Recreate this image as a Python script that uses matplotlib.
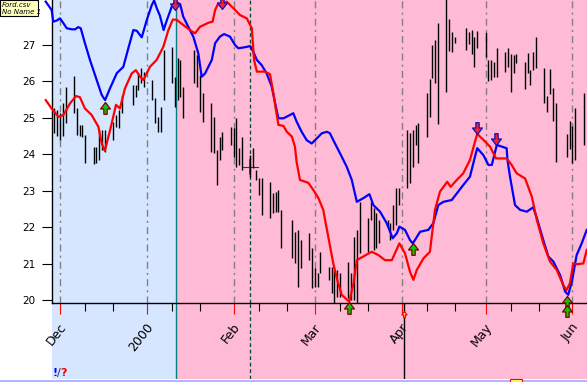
import numpy as np
import pandas as pd
import matplotlib
matplotlib.use("Agg")
import matplotlib.pyplot as plt
import matplotlib.transforms as mtransforms
from matplotlib.path import Path
from matplotlib.patches import Rectangle

# Ford.csv daily bars, 29 Nov 1999 - 5 Jun 2000 (exchange holidays skipped)
holidays = ["1999-12-24", "2000-01-17", "2000-02-21", "2000-04-21", "2000-05-29"]
dates = pd.bdate_range("1999-11-29", "2000-06-05")
dates = dates[~dates.isin(pd.to_datetime(holidays))]

highs = [25.27, 25.22,
         25.14, 25.41, 25.85, 26.15, 25.27, 24.81, 24.81, 24.53, 24.20, 24.20,
         24.67, 24.67, 24.67, 24.89, 25.08, 25.22, 25.63, 25.90, 25.90, 26.23,
         26.37, 26.26,
         26.04, 25.55, 25.03, 25.30, 26.86, 26.95, 26.12, 26.64, 26.59, 25.85,
         26.86, 26.73, 26.18, 25.68, 25.41, 25.03, 24.12, 24.48, 24.62, 24.75,
         24.72, 25.00, 24.17, 24.48, 23.98, 24.17, 23.57, 23.35, 23.35, 23.24,
         22.94, 22.97, 23.02, 22.48, 22.20, 21.87, 21.93, 21.65, 21.84, 21.43,
         20.89, 20.75, 21.32, 20.91, 20.91, 20.83, 20.83, 20.75, 21.05, 20.75,
         21.73, 21.93, 22.70, 22.26, 22.70, 22.53, 22.40, 22.20, 22.20, 22.12,
         22.61, 23.08, 23.08,
         24.67, 24.59, 24.67, 24.81, 24.86, 25.68, 26.07, 27.00, 27.14, 27.60,
         28.40, 27.71, 27.36, 27.22, 27.47, 27.36, 27.41, 27.22, 27.38,
         27.36, 26.59, 26.59, 26.53, 26.92, 26.81, 26.92, 26.75, 26.73, 26.75,
         26.53, 26.78, 26.31, 26.81, 27.22, 26.37, 25.60, 26.34, 25.82, 25.41,
         24.56, 24.92,
         24.78, 25.27, 25.68]
lows = [24.59, 24.50,
        24.40, 24.50, 24.86, 25.14, 24.53, 24.50, 24.48, 23.76, 23.74, 23.76,
        23.85, 24.12, 24.06, 24.40, 24.75, 24.72, 25.14, 25.36, 25.57, 25.77,
        25.96, 25.85,
        25.49, 24.86, 24.62, 24.62, 25.49, 25.96, 25.30, 25.49, 25.57, 25.00,
        25.96, 25.85, 25.16, 24.89, 24.07, 24.04, 23.16, 23.85, 24.12, 24.26,
        23.93, 23.65, 23.71, 23.57, 23.38, 23.63, 23.30, 22.89, 22.34, 22.26,
        22.40, 22.42, 22.42, 21.43, 21.16, 21.02, 20.36, 20.89, 21.10, 20.34,
        20.36, 20.36, 20.75, 20.56, 20.20, 19.93, 20.09, 20.09, 20.06, 20.01,
        20.01, 19.93, 21.30, 21.32, 22.20, 21.38, 21.43, 21.57, 22.01, 21.65,
        21.93, 22.07, 22.61,
        23.08, 23.22, 23.65, 24.26, 23.76, 24.48, 25.03, 26.10, 25.96, 24.83,
        25.71, 26.84, 26.81, 27.05, 26.86, 27.03, 26.75, 26.40, 26.92,
        26.67, 26.01, 26.04, 26.12, 26.12, 26.26, 26.40, 25.71, 26.23, 26.51,
        25.79, 26.23, 25.90, 26.31, 26.37, 25.41, 25.16, 25.66, 24.92, 23.79,
        23.93, 24.15,
        23.76, 23.85, 24.26]

# indicator lines: day offset from 1 Dec 1999 and value
blue_days = [-5.1, -3.0, -2.4, -1.2, 0.0, 1.2, 2.4, 4.2, 5.4, 6.5,
             7.4, 8.9, 10.7, 13.1, 14.9, 16.1, 17.9, 20.3, 22.6, 24.4,
             26.2, 27.4, 29.2, 31.0, 32.8, 33.6, 34.6, 35.7, 37.0, 38.2,
             39.9, 41.1, 42.9, 44.0, 45.8, 47.6, 49.4, 50.6, 51.8, 54.2,
             55.4, 57.1, 58.6, 60.7, 62.5, 63.7, 66.1, 67.9, 69.0, 70.3,
             72.0, 73.8, 75.6, 77.1, 78.0, 79.8, 82.1, 83.3, 84.5, 86.3,
             88.1, 89.9, 91.7, 93.5, 95.3, 96.4, 97.6, 100.0, 102.4, 104.2,
             106.0, 108.3, 110.5, 111.9, 114.3, 116.7, 118.8, 120.3, 121.2, 123.2,
             125.0, 126.0, 128.6, 131.5, 133.3, 135.1, 136.9, 139.9, 141.7, 144.0,
             146.4, 148.2, 149.0, 151.2, 153.0, 154.2, 156.0, 159.5, 159.8, 160.7,
             162.5, 164.3, 166.7, 169.0, 170.3, 172.6, 174.4, 176.2, 178.6, 180.4,
             181.5, 182.8, 184.5, 186.3, 188.1]
blue_vals = [28.19, 27.96, 27.64, 27.67, 27.73, 27.60, 27.46, 27.43, 27.43, 27.49,
             27.46, 27.05, 26.59, 26.04, 25.63, 25.49, 25.82, 26.23, 26.40, 26.91,
             27.41, 27.39, 27.21, 27.69, 28.10, 28.22, 28.00, 27.80, 27.41, 27.69,
             28.05, 28.19, 28.12, 27.78, 27.50, 27.23, 26.77, 26.13, 26.22, 26.59,
             27.05, 27.23, 27.30, 27.23, 27.00, 26.91, 26.94, 26.97, 26.82, 26.59,
             26.45, 26.22, 25.86, 25.31, 24.99, 24.99, 25.08, 25.13, 24.90, 24.62,
             24.39, 24.30, 24.44, 24.58, 24.62, 24.58, 24.39, 24.03, 23.66, 23.30,
             22.70, 22.80, 22.91, 22.61, 22.43, 22.11, 21.70, 21.84, 22.02, 21.93,
             21.65, 21.56, 21.88, 21.93, 22.11, 22.61, 22.70, 22.75, 22.93, 23.16,
             23.39, 23.94, 24.17, 23.98, 23.71, 23.71, 24.26, 24.17, 23.85, 23.39,
             22.61, 22.48, 22.43, 22.55, 22.25, 21.65, 21.20, 21.06, 20.69, 20.24,
             20.15, 20.51, 21.24, 21.56, 21.93]
red_days = [-5.1, -3.0, -0.6, 1.2, 3.6, 5.7, 7.1, 8.9, 11.3, 13.7,
            14.9, 16.0, 17.9, 20.0, 21.4, 23.2, 25.6, 27.1, 28.6, 29.8,
            32.1, 34.5, 36.9, 38.7, 40.3, 41.7, 44.0, 46.4, 48.2, 50.0,
            53.0, 54.5, 55.4, 56.5, 57.8, 59.5, 61.9, 64.3, 66.7, 68.5,
            69.3, 70.3, 73.2, 75.0, 76.2, 77.1, 78.0, 79.8, 81.0, 82.8,
            83.9, 84.5, 85.7, 88.7, 90.5, 92.3, 94.0, 95.8, 97.6, 99.0,
            100.6, 103.3, 104.8, 106.0, 107.8, 111.3, 113.7, 116.1, 118.5, 121.2,
            123.2, 125.0, 126.2, 127.4, 129.8, 132.1, 133.9, 135.7, 138.3, 139.5,
            141.7, 144.0, 146.4, 148.2, 149.0, 151.2, 153.6, 155.7, 159.5, 161.3,
            163.1, 166.1, 168.5, 170.3, 172.6, 175.0, 177.4, 179.7, 180.9, 182.1,
            183.3, 184.5, 186.9, 188.1]
red_vals = [25.49, 25.26, 25.03, 25.08, 25.40, 25.60, 25.57, 25.26, 25.08, 24.76,
            24.30, 24.10, 24.67, 25.36, 25.26, 25.81, 26.22, 26.31, 26.13, 26.04,
            26.40, 26.59, 26.95, 27.41, 27.70, 27.69, 27.55, 27.41, 27.32, 27.50,
            27.61, 27.64, 27.96, 28.14, 28.04, 28.19, 28.01, 27.82, 27.73, 27.46,
            26.59, 26.27, 26.27, 26.20, 25.68, 25.22, 24.81, 24.78, 24.62, 24.49,
            24.21, 23.79, 23.30, 23.22, 23.02, 22.80, 22.48, 21.74, 21.01, 20.56,
            20.15, 19.96, 20.46, 21.10, 21.18, 21.33, 21.24, 21.10, 21.10, 21.56,
            21.29, 20.78, 20.56, 20.83, 21.15, 21.33, 22.48, 22.98, 23.25, 23.11,
            23.30, 23.48, 23.85, 24.35, 24.56, 24.40, 24.21, 23.89, 23.89, 23.71,
            23.48, 23.34, 22.84, 22.20, 21.56, 21.06, 20.83, 20.42, 20.28, 20.47,
            21.01, 20.99, 21.01, 21.38]

# signal arrows (tip position)
buy_days = [16.2, 103.3, 126.2, 181.2, 181.2]
buy_vals = [25.44, 19.95, 21.57, 20.12, 19.86]
sell_days = [41.1, 57.7, 149.0, 155.7]
sell_vals = [27.96, 27.99, 24.56, 24.26]

month_labels = ["Dec", "2000", "Feb", "Mar", "Apr", "May", "Jun"]
month_dates = ["1999-12-01", "2000-01-01", "2000-02-01", "2000-03-01",
               "2000-04-01", "2000-05-01", "2000-06-01"]
minor_dates = ["1999-12-10", "1999-12-20", "2000-01-10", "2000-01-20",
               "2000-02-10", "2000-02-20", "2000-03-10", "2000-03-20",
               "2000-04-10", "2000-04-20", "2000-05-10", "2000-05-20"]

base = pd.Timestamp("1999-12-01")
day = np.asarray((dates - base).days, dtype=float)
month_days = [(pd.Timestamp(s) - base).days for s in month_dates]
minor_days = [(pd.Timestamp(s) - base).days for s in minor_dates]

BLUE_BG = "#d6e6ff"
PINK_BG = "#ffbad6"
x0, x1 = -2.86, 188.2
split = 41.4
cursor = 68

up_arrow = Path([(0, 0), (0.42, -0.55), (0.14, -0.55), (0.14, -1.0),
                 (-0.14, -1.0), (-0.14, -0.55), (-0.42, -0.55), (0, 0)])
down_arrow = Path([(0, 0), (0.42, 0.55), (0.14, 0.55), (0.14, 1.0),
                   (-0.14, 1.0), (-0.14, 0.55), (-0.42, 0.55), (0, 0)])

fig = plt.figure(figsize=(5.87, 3.82), dpi=100)
W, H = 587.0, 382.0

# strip below the axis line (label area)
low = fig.add_axes([52 / W, 3 / H, 535 / W, 76 / H])
low.set_xlim(x0, x1)
low.set_ylim(0, 1)
low.axvspan(x0, split, color=BLUE_BG, lw=0)
low.axvspan(split, x1, color=PINK_BG, lw=0)
low.axvline(split, color="#008080", lw=1)
low.axvline(cursor, color="#004a2a", lw=0.9, ls=(0, (3, 2.2)))
low.axvline(123.0, color="black", lw=1)
low.axis("off")
low.set_zorder(0)

ax = fig.add_axes([52 / W, 79 / H, 535 / W, 303 / H])
ax.set_zorder(1)
ax.patch.set_visible(False)
ax.set_xlim(x0, x1)
ax.set_ylim(19.926, 28.234)
ax.axvspan(x0, split, color=BLUE_BG, lw=0, zorder=0)
ax.axvspan(split, x1, color=PINK_BG, lw=0, zorder=0)
for m in month_days:
    ax.axvline(m, color="#808080", lw=1, ls=(0, (5, 3, 1.5, 3)), zorder=1)
ax.axvline(split, color="#008080", lw=1, zorder=1)
ax.axvline(cursor, color="#004a2a", lw=0.9, ls=(0, (3, 2.2)), zorder=1)
ax.plot([64.9, 70.8], [23.66, 23.66], color="#204030", lw=0.8, zorder=2)
ax.plot([cursor, cursor], [23.85, 23.45], color="#204030", lw=1.2, zorder=2)

ax.vlines(day, lows, highs, color="black", lw=1, zorder=2)

ax.plot(blue_days, blue_vals, color="#0000ff", lw=1.6, zorder=3, clip_on=False)
ax.plot(red_days, red_vals, color="#ff0000", lw=1.6, zorder=3, clip_on=False)

ax.plot(buy_days, buy_vals, ls="none", marker=up_arrow, ms=17,
        mfc="#00d000", mec="#800000", mew=0.9, zorder=4, clip_on=False)
ax.plot(sell_days, sell_vals, ls="none", marker=down_arrow, ms=17,
        mfc="#ff2020", mec="#1010c0", mew=0.9, zorder=4, clip_on=False)
ax.plot([123.0], [19.72], ls="none", marker=up_arrow, ms=9,
        mfc="#ffff60", mec="#ff0000", mew=0.9, zorder=4, clip_on=False)

for s in ["top", "right"]:
    ax.spines[s].set_visible(False)
for s in ["left", "bottom"]:
    ax.spines[s].set_color("black")
    ax.spines[s].set_linewidth(1)

ax.set_yticks(range(20, 28))
ax.tick_params(axis="y", direction="out", length=7, width=0.8, pad=5,
               labelsize=7.5, colors="black")
ax.set_xticks(month_days)
ax.set_xticks(minor_days, minor=True)
ax.tick_params(axis="x", which="major", direction="out", length=8, width=0.8,
               color="red", labelbottom=False)
ax.tick_params(axis="x", which="minor", direction="out", length=6, width=0.8,
               color="black")

trans = mtransforms.blended_transform_factory(ax.transData, ax.transAxes)
for m, lab in zip(month_days, month_labels):
    ax.text(m + 1.5, -0.072, lab, transform=trans, rotation=52, ha="right",
            va="center", rotation_mode="anchor", fontsize=9, color="black")

# file tag in the corner
fig.patches.append(Rectangle((0, 1 - 16 / H), 38 / W, 16 / H, transform=fig.transFigure,
                             facecolor="#ffffc0", edgecolor="black", lw=0.8))
fig.text(2 / W, 1 - 5 / H, "Ford.csv", fontsize=5, style="italic", va="center")
fig.text(2 / W, 1 - 12 / H, "No Name 1", fontsize=5, style="italic", va="center")

fig.text(53 / W, 1 - 373 / H, "!", color="#0000ff", fontsize=8, weight="bold", va="center")
fig.text(57 / W, 1 - 373 / H, "/", color="#202060", fontsize=8, va="center")
fig.text(60 / W, 1 - 373 / H, "?", color="#ff0000", fontsize=8, weight="bold", va="center")

fig.patches.append(Rectangle((0, 0), 1, 2.5 / H, transform=fig.transFigure,
                             facecolor="#b4b4ff", edgecolor="none"))
fig.patches.append(Rectangle((510 / W, 0), 12 / W, 3 / H, transform=fig.transFigure,
                             facecolor="#ffff60", edgecolor="red", lw=0.8))

fig.savefig("out.png", dpi=100)
